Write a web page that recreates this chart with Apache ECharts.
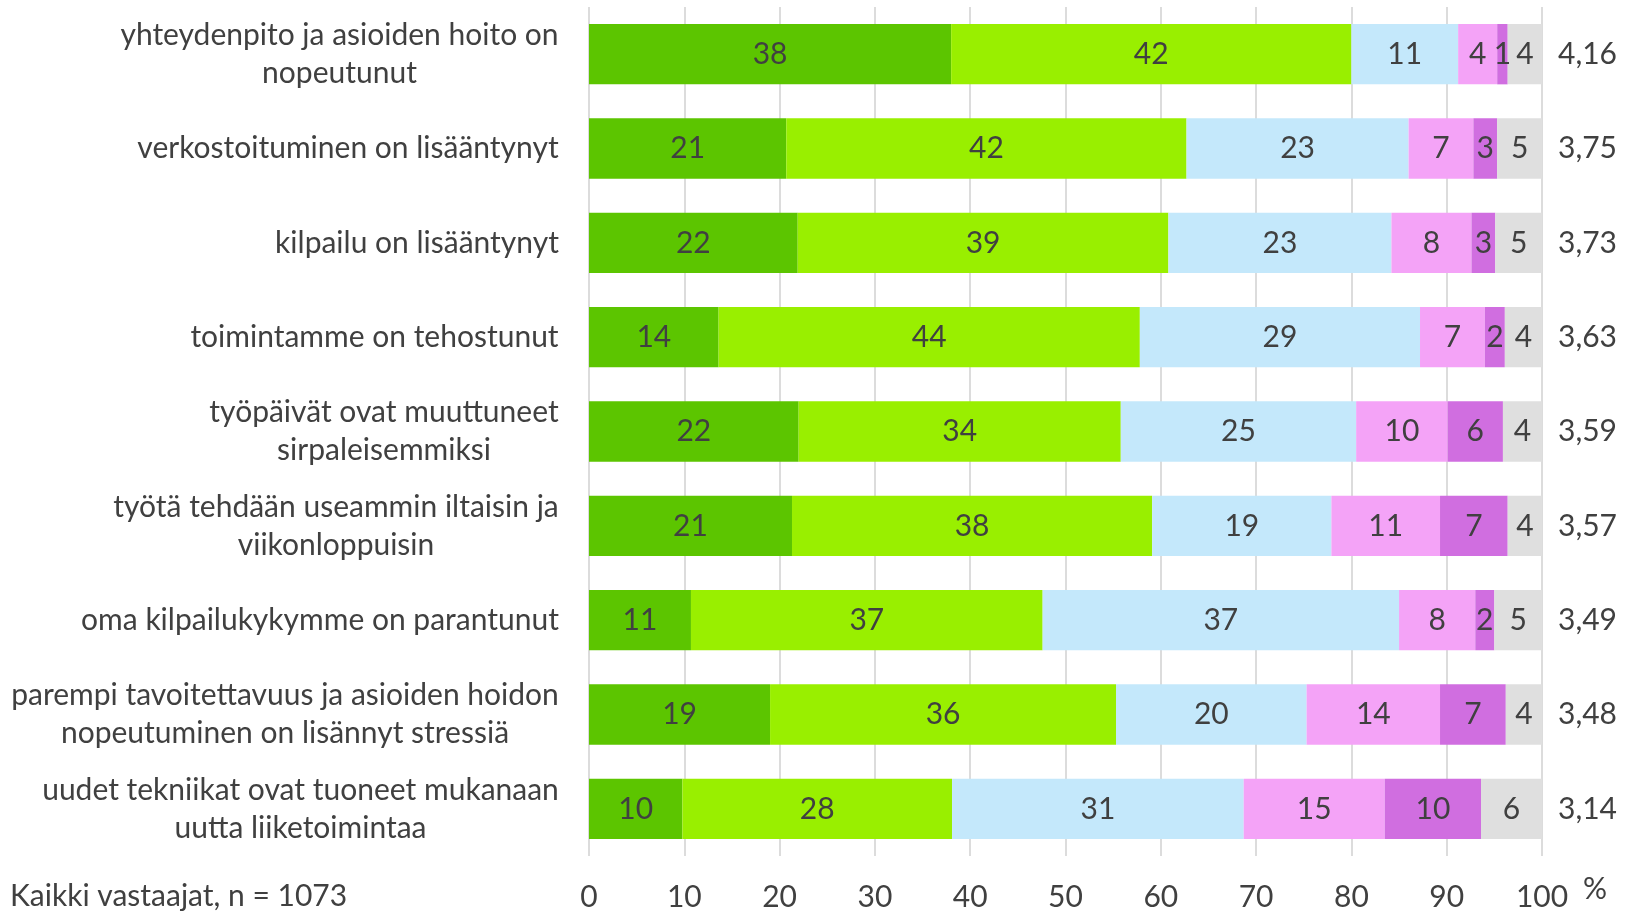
<!DOCTYPE html>
<html>
<head>
<meta charset="utf-8">
<script src="https://cdn.jsdelivr.net/npm/echarts@6/dist/echarts.min.js"></script>
<style>
  html, body { margin: 0; padding: 0; background: #fff; }
  #chart { width: 1630px; height: 913px; }
</style>
</head>
<body>
<div id="chart"></div>
<script>
// Statements (top to bottom)
const categories = [
  'yhteydenpito ja asioiden hoito on\nnopeutunut',
  'verkostoituminen on lisääntynyt',
  'kilpailu on lisääntynyt',
  'toimintamme on tehostunut',
  'työpäivät ovat muuttuneet\nsirpaleisemmiksi',
  'työtä tehdään useammin iltaisin ja\nviikonloppuisin',
  'oma kilpailukykymme on parantunut',
  'parempi tavoitettavuus ja asioiden hoidon\nnopeutuminen on lisännyt stressiä',
  'uudet tekniikat ovat tuoneet mukanaan\nuutta liiketoimintaa'
];

// Mean score per statement
const means = ['4,16', '3,75', '3,73', '3,63', '3,59', '3,57', '3,49', '3,48', '3,14'];

// Answer shares, % of respondents
const taysinSamaa    = [38.0, 20.7, 21.9, 13.6, 22.0, 21.3, 10.7, 19.0,  9.8];
const jokseenkinSamaa = [42.0, 42.0, 38.9, 44.2, 33.8, 37.8, 36.9, 36.3, 28.3];
const eiSamaaEiEri   = [11.2, 23.3, 23.4, 29.4, 24.7, 18.8, 37.4, 20.0, 30.6];
const jokseenkinEri  = [ 4.1,  6.8,  8.4,  6.8,  9.6, 11.4,  8.0, 14.0, 14.8];
const taysinEri      = [ 1.1,  2.5,  2.5,  2.1,  5.8,  7.1,  2.0,  6.9, 10.1];
const enOsaa         = [ 3.6,  4.7,  4.9,  3.9,  4.1,  3.6,  5.0,  3.8,  6.4];

const xTicks = [0, 10, 20, 30, 40, 50, 60, 70, 80, 90, 100];

const FONT = 'Lato';
const FS = 30;
const TXT = '#404040';

// Measure each label so that wrapped lines are centred within a right-aligned block
const ctx = document.createElement('canvas').getContext('2d');
ctx.font = FS + 'px ' + FONT;
const rich = {};
categories.forEach((c, i) => {
  const w = Math.max(...c.split('\n').map(l => ctx.measureText(l).width));
  rich['c' + i] = { width: Math.ceil(w), align: 'center', fontSize: FS, fontFamily: FONT, color: TXT, lineHeight: 38 };
});

const seriesDefs = [
  { name: 'täysin samaa mieltä', data: taysinSamaa, color: '#5CC500' },
  { name: 'jokseenkin samaa mieltä', data: jokseenkinSamaa, color: '#99EF00' },
  { name: 'ei samaa eikä eri mieltä', data: eiSamaaEiEri, color: '#C4E8FB' },
  { name: 'jokseenkin eri mieltä', data: jokseenkinEri, color: '#F4A3F7' },
  { name: 'täysin eri mieltä', data: taysinEri, color: '#D06EE0' },
  { name: 'en osaa sanoa', data: enOsaa, color: '#DFDFDF' }
];

const chart = echarts.init(document.getElementById('chart'), null, { renderer: 'canvas' });

chart.setOption({
  animation: false,
  textStyle: { fontFamily: FONT },
  title: {
    text: 'Kaikki vastaajat, n = 1073',
    left: 10,
    top: 881,
    padding: 0,
    textStyle: { fontSize: FS, fontWeight: 'normal', color: TXT, fontFamily: FONT }
  },
  graphic: [{
    type: 'text',
    left: 1583,
    top: 874,
    style: { text: '%', fontSize: FS, fill: TXT, fontFamily: FONT }
  }],
  grid: { left: 589, right: 88, top: 7, bottom: 57 },
  xAxis: {
    type: 'value',
    min: 0,
    max: 100,
    interval: 10,
    axisLine: { show: false },
    axisTick: { show: false },
    axisLabel: {
      margin: 26,
      fontSize: FS,
      color: TXT,
      fontFamily: FONT,
      formatter: v => (xTicks.includes(v) ? String(v) : '')
    },
    splitLine: { show: true, lineStyle: { color: '#D0D0D0', width: 1.5 } }
  },
  yAxis: [
    {
      type: 'category',
      data: categories,
      inverse: true,
      axisLine: { show: false },
      axisTick: { show: false },
      axisLabel: {
        margin: 30,
        align: 'right',
        formatter: (v, i) => v.split('\n').map(l => '{c' + i + '|' + l + '}').join('\n'),
        rich: rich
      }
    },
    {
      type: 'category',
      data: means,
      inverse: true,
      position: 'right',
      axisLine: { show: false },
      axisTick: { show: false },
      axisLabel: { margin: 16, align: 'left', fontSize: FS, color: TXT, fontFamily: FONT }
    }
  ],
  series: seriesDefs.map(s => ({
    name: s.name,
    type: 'bar',
    stack: 'total',
    yAxisIndex: 0,
    data: s.data,
    barCategoryGap: '36%',
    itemStyle: { color: s.color },
    label: {
      show: true,
      position: 'inside',
      fontSize: FS,
      color: TXT,
      fontFamily: FONT,
      formatter: p => String(Math.round(p.value))
    }
  }))
});
</script>
</body>
</html>
